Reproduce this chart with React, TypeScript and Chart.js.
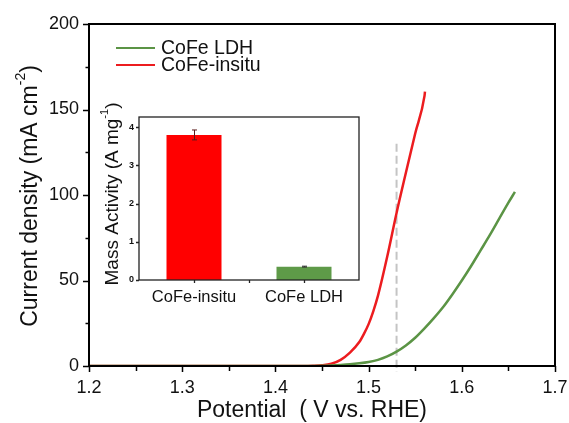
import React, { useEffect, useRef } from 'react';
import { Chart, registerables } from 'chart.js';
Chart.register(...registerables);

// ---- Main LSV data ----
const potentialLDH = [1.2, 1.3, 1.4, 1.44, 1.45, 1.46, 1.47, 1.48, 1.49, 1.5, 1.51, 1.52, 1.53, 1.54, 1.55, 1.56, 1.57, 1.58, 1.59, 1.6, 1.61, 1.62, 1.63, 1.64, 1.65, 1.657];
const currentLDH = [0, 0, 0, 0.05, 0.1, 0.3, 0.6, 1.0, 1.6, 2.4, 3.6, 5.6, 8.4, 12, 16.5, 22, 28, 34.5, 42, 50, 58.5, 67.5, 76.5, 86, 95.5, 101.8];
const potentialInsitu = [1.2, 1.3, 1.4, 1.43, 1.44, 1.45, 1.46, 1.47, 1.48, 1.49, 1.495, 1.5, 1.505, 1.51, 1.52, 1.53, 1.54, 1.55, 1.56, 1.5605];
const currentInsitu = [0, 0, 0, 0, 0.1, 0.4, 1.3, 3.6, 7.8, 14, 18.8, 24.5, 32, 41, 64, 89.5, 113, 136, 158, 160.4];
const markerPotential = [1.53, 1.53];
const markerCurrent = [130, -3.5];

const xMajorTicks = [1.2, 1.3, 1.4, 1.5, 1.6, 1.7];
const xMinorTicks = [1.25, 1.35, 1.45, 1.55, 1.65];
const yMajorTicks = [0, 50, 100, 150, 200];
const yMinorTicks = [25, 75, 125, 175];

const seriesLabels = ['CoFe LDH', 'CoFe-insitu'];

// ---- Inset data ----
const insetCategories = ['CoFe-insitu', 'CoFe LDH'];
const massActivity = [3.8, 0.35];
const massActivityErr = [0.13, 0.012];
const insetYTicks = [0, 1, 2, 3, 4];

const FONT = '"Liberation Sans", Arial, sans-serif';
const GREEN = '#5b9445';
const RED = '#ec1c1f';
const TEXT = '#111';

function drawTitle(
  ctx: CanvasRenderingContext2D,
  cx: number,
  cy: number,
  parts: { text: string; sup?: boolean }[],
  size: number,
  rotated: boolean
) {
  ctx.save();
  ctx.translate(cx, cy);
  if (rotated) ctx.rotate(-Math.PI / 2);
  const mainFont = `${size}px ${FONT}`;
  const supFont = `${Math.round(size * 0.6)}px ${FONT}`;
  let total = 0;
  const widths = parts.map((p) => {
    ctx.font = p.sup ? supFont : mainFont;
    const w = ctx.measureText(p.text).width;
    total += w;
    return w;
  });
  let x = -total / 2;
  ctx.fillStyle = TEXT;
  ctx.textBaseline = 'middle';
  ctx.textAlign = 'left';
  parts.forEach((p, i) => {
    ctx.font = p.sup ? supFont : mainFont;
    ctx.fillText(p.text, x, p.sup ? -size * 0.42 : 0);
    x += widths[i];
  });
  ctx.restore();
}

const mainDecor = {
  id: 'mainDecor',
  afterDraw(chart: any) {
    const { ctx, chartArea } = chart;
    const xs = chart.scales.x;
    const ys = chart.scales.y;
    ctx.save();
    ctx.strokeStyle = '#000';
    ctx.lineWidth = 2;
    ctx.strokeRect(chartArea.left, chartArea.top, chartArea.right - chartArea.left, chartArea.bottom - chartArea.top);
    ctx.lineWidth = 1.5;
    ctx.beginPath();
    xMajorTicks.forEach((v) => {
      const p = Math.round(xs.getPixelForValue(v)) + 0.5;
      ctx.moveTo(p, chartArea.bottom);
      ctx.lineTo(p, chartArea.bottom + 6);
    });
    xMinorTicks.forEach((v) => {
      const p = Math.round(xs.getPixelForValue(v)) + 0.5;
      ctx.moveTo(p, chartArea.bottom);
      ctx.lineTo(p, chartArea.bottom + 5);
    });
    yMajorTicks.forEach((v) => {
      const p = Math.round(ys.getPixelForValue(v)) + 0.5;
      ctx.moveTo(chartArea.left, p);
      ctx.lineTo(chartArea.left - 6, p);
    });
    yMinorTicks.forEach((v) => {
      const p = Math.round(ys.getPixelForValue(v)) + 0.5;
      ctx.moveTo(chartArea.left, p);
      ctx.lineTo(chartArea.left - 3.5, p);
    });
    ctx.stroke();

    // legend
    const colors = [GREEN, RED];
    seriesLabels.forEach((label, i) => {
      const y = 48 + i * 17;
      ctx.strokeStyle = colors[i];
      ctx.lineWidth = 2;
      ctx.beginPath();
      ctx.moveTo(116, y);
      ctx.lineTo(155, y);
      ctx.stroke();
      ctx.fillStyle = TEXT;
      ctx.font = `19.5px ${FONT}`;
      ctx.textBaseline = 'middle';
      ctx.textAlign = 'left';
      ctx.fillText(label, 161, y + 1);
    });

    drawTitle(ctx, 312, 411, [{ text: 'Potential  ( V vs. RHE)' }], 23, false);
    drawTitle(ctx, 31, 196, [{ text: 'Current density (mA cm' }, { text: '-2', sup: true }, { text: ')' }], 23, true);
    ctx.restore();
  },
};

const insetDecor = {
  id: 'insetDecor',
  afterDraw(chart: any) {
    const { ctx, chartArea } = chart;
    const xs = chart.scales.x;
    const ys = chart.scales.y;
    ctx.save();
    ctx.strokeStyle = '#222';
    ctx.lineWidth = 1.3;
    ctx.strokeRect(chartArea.left, chartArea.top, chartArea.right - chartArea.left, chartArea.bottom - chartArea.top);
    ctx.beginPath();
    insetYTicks.forEach((v) => {
      const p = Math.round(ys.getPixelForValue(v)) + 0.5;
      ctx.moveTo(chartArea.left, p);
      ctx.lineTo(chartArea.left - 3, p);
    });
    insetCategories.forEach((_, i) => {
      const p = Math.round(xs.getPixelForValue(i)) + 0.5;
      ctx.moveTo(p, chartArea.bottom);
      ctx.lineTo(p, chartArea.bottom + 3);
    });
    const mid = Math.round((xs.getPixelForValue(0) + xs.getPixelForValue(1)) / 2) + 0.5;
    ctx.moveTo(mid, chartArea.bottom);
    ctx.lineTo(mid, chartArea.bottom + 3);
    ctx.stroke();

    // error bars
    const errColors = ['#5a1a1a', '#333'];
    massActivity.forEach((v, i) => {
      const cx = Math.round(xs.getPixelForValue(i)) + 0.5;
      const top = ys.getPixelForValue(v + massActivityErr[i]);
      const bot = ys.getPixelForValue(v - massActivityErr[i]);
      ctx.strokeStyle = errColors[i];
      ctx.lineWidth = 1;
      ctx.beginPath();
      ctx.moveTo(cx, top);
      ctx.lineTo(cx, bot);
      ctx.moveTo(cx - 2.5, top);
      ctx.lineTo(cx + 2.5, top);
      ctx.moveTo(cx - 2.5, bot);
      ctx.lineTo(cx + 2.5, bot);
      ctx.stroke();
    });

    drawTitle(ctx, 33, 94, [{ text: 'Mass Activity (A mg' }, { text: '-1', sup: true }, { text: ')' }], 19, true);
    ctx.restore();
  },
};

const zeroPad = (s: any) => {
  s.paddingLeft = 0;
  s.paddingRight = 0;
  s.paddingTop = 0;
  s.paddingBottom = 0;
};

export default function App() {
  const mainRef = useRef<HTMLCanvasElement>(null);
  const insetRef = useRef<HTMLCanvasElement>(null);

  useEffect(() => {
    const main = new Chart(mainRef.current!, {
      type: 'scatter',
      data: {
        datasets: [
          {
            label: seriesLabels[0],
            data: potentialLDH.map((x, i) => ({ x, y: currentLDH[i] })),
            showLine: true,
            borderColor: GREEN,
            borderWidth: 2.5,
            pointRadius: 0,
            cubicInterpolationMode: 'monotone',
          },
          {
            label: seriesLabels[1],
            data: potentialInsitu.map((x, i) => ({ x, y: currentInsitu[i] })),
            showLine: true,
            borderColor: RED,
            borderWidth: 2.5,
            pointRadius: 0,
            cubicInterpolationMode: 'monotone',
          },
          {
            label: 'marker',
            data: markerPotential.map((x, i) => ({ x, y: markerCurrent[i] })),
            showLine: true,
            borderColor: '#c4c4c4',
            borderWidth: 2,
            borderDash: [8, 4],
            pointRadius: 0,
            clip: false as any,
          },
        ],
      },
      options: {
        responsive: false,
        animation: false,
        devicePixelRatio: 1,
        layout: { padding: { left: 0, top: 24, right: 14, bottom: 0 } },
        plugins: { legend: { display: false }, tooltip: { enabled: false } },
        scales: {
          x: {
            type: 'linear',
            min: 1.2,
            max: 1.7,
            grid: { display: false, drawTicks: false },
            border: { display: false },
            afterBuildTicks: (s: any) => {
              s.ticks = xMajorTicks.map((v) => ({ value: v }));
            },
            afterFit: (s: any) => {
              s.height = 57;
              zeroPad(s);
            },
            ticks: {
              padding: 11,
              color: TEXT,
              font: { family: FONT, size: 18 },
              maxRotation: 0,
              autoSkip: false,
              callback: (v: any) => Number(v).toFixed(1),
            },
          },
          y: {
            type: 'linear',
            min: 0,
            max: 200,
            grid: { display: false, drawTicks: false },
            border: { display: false },
            afterBuildTicks: (s: any) => {
              s.ticks = yMajorTicks.map((v) => ({ value: v }));
            },
            afterFit: (s: any) => {
              s.width = 89;
              zeroPad(s);
            },
            ticks: {
              padding: 10,
              color: TEXT,
              font: { family: FONT, size: 18 },
              autoSkip: false,
            },
          },
        },
      },
      plugins: [mainDecor],
    });

    const inset = new Chart(insetRef.current!, {
      type: 'bar',
      data: {
        labels: insetCategories,
        datasets: [
          {
            data: massActivity,
            backgroundColor: ['#ff0000', '#5e9a48'],
            borderWidth: 0,
            barPercentage: 0.5,
            categoryPercentage: 1,
          },
        ],
      },
      options: {
        responsive: false,
        animation: false,
        devicePixelRatio: 1,
        layout: { padding: { left: 0, top: 17, right: 6, bottom: 0 } },
        plugins: { legend: { display: false }, tooltip: { enabled: false } },
        scales: {
          x: {
            grid: { display: false, drawTicks: false },
            border: { display: false },
            afterFit: (s: any) => {
              s.height = 30;
              zeroPad(s);
            },
            ticks: { padding: 8, color: TEXT, font: { family: FONT, size: 16.5 } },
          },
          y: {
            min: 0,
            max: 4.27,
            grid: { display: false, drawTicks: false },
            border: { display: false },
            afterBuildTicks: (s: any) => {
              s.ticks = insetYTicks.map((v) => ({ value: v }));
            },
            afterFit: (s: any) => {
              s.width = 59;
              zeroPad(s);
            },
            ticks: { padding: 5, color: TEXT, font: { family: FONT, size: 9, weight: 'bold' } },
          },
        },
      },
      plugins: [insetDecor],
    });

    return () => {
      main.destroy();
      inset.destroy();
    };
  }, []);

  return (
    <div style={{ position: 'fixed', left: 0, top: 0, width: 569, height: 423, background: '#fff' }}>
      <canvas ref={mainRef} width={569} height={423} style={{ position: 'absolute', left: 0, top: 0, width: 569, height: 423 }} />
      <canvas ref={insetRef} width={285} height={210} style={{ position: 'absolute', left: 80, top: 100, width: 285, height: 210 }} />
    </div>
  );
}
